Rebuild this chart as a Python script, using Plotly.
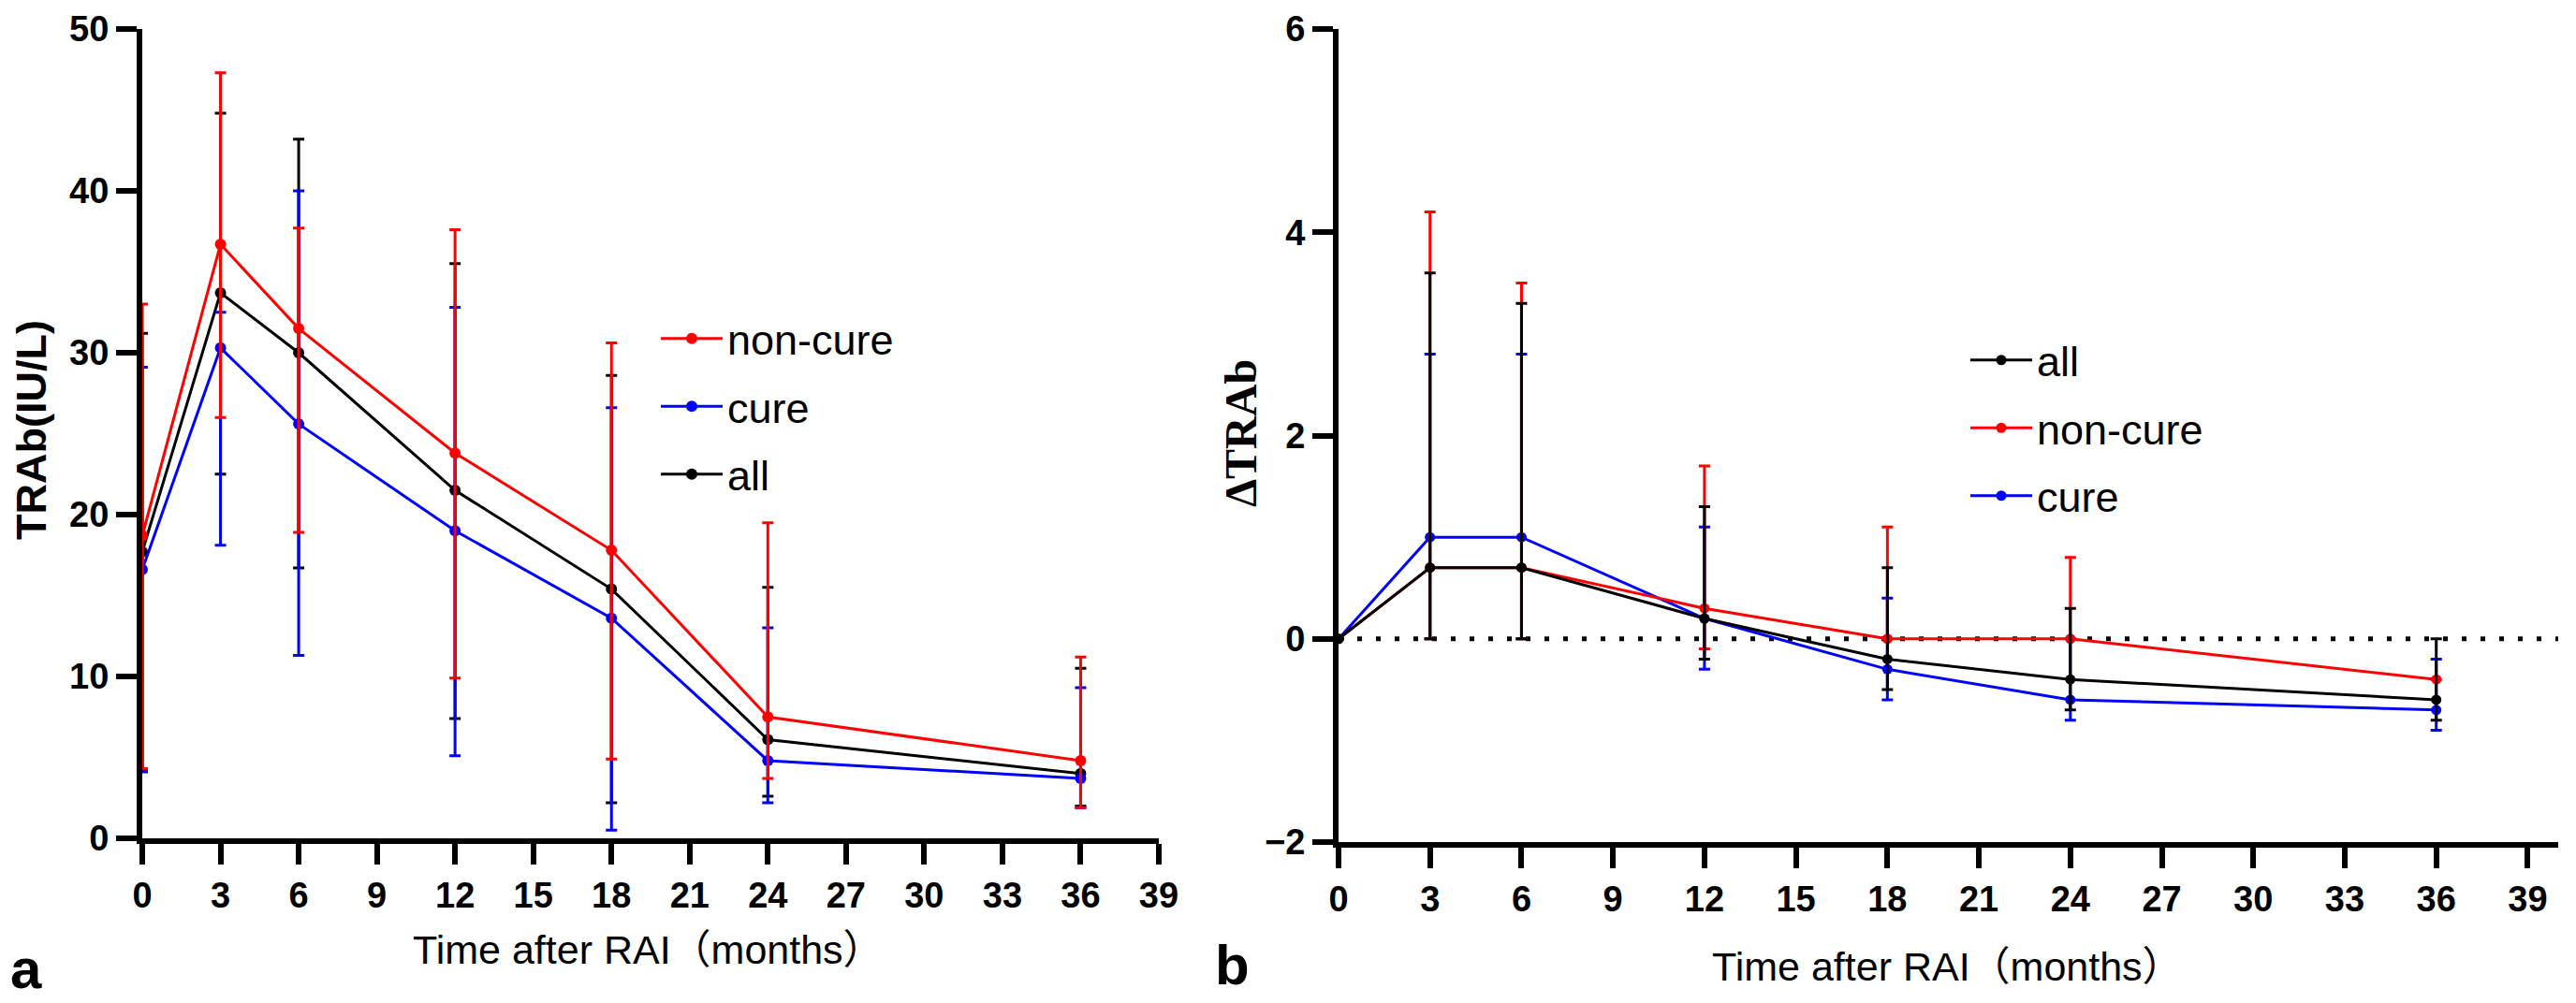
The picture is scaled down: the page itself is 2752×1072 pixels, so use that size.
import numpy as np
import plotly.graph_objects as go
from plotly.subplots import make_subplots

# target picture size; the page body adds an 8px margin, so the figure is
# made 8px smaller and every pixel position is shifted by that amount
W, H = 2752, 1072
OFF = 8
FW, FH = W - OFF, H - OFF


def fx(px):
    return (px - OFF) / FW


def fy(py):
    return (FH - (py - OFF)) / FH


# months after RAI
months = [0, 3, 6, 12, 18, 24, 36]

# panel a: TRAb (IU/L), point + upper/lower whisker ends
noncure_trab = [18.7, 36.7, 31.5, 23.8, 17.8, 7.5, 4.8]
noncure_trab_hi = [33.0, 47.3, 37.7, 37.6, 30.6, 19.5, 11.2]
noncure_trab_lo = [4.3, 26.0, 18.9, 9.9, 4.9, 3.7, 1.9]

cure_trab = [16.6, 30.3, 25.6, 19.0, 13.6, 4.8, 3.7]
cure_trab_hi = [29.1, 32.5, 40.0, 32.8, 26.6, 13.0, 9.3]
cure_trab_lo = [4.1, 18.1, 11.3, 5.1, 0.5, 2.2, 1.9]

all_trab = [17.7, 33.7, 30.0, 21.5, 15.4, 6.1, 4.0]
all_trab_hi = [31.2, 44.8, 43.2, 35.5, 28.6, 15.5, 10.5]
all_trab_lo = [4.2, 22.5, 16.7, 7.4, 2.2, 2.6, 2.0]

# panel b: delta TRAb
all_d = [0, 0.7, 0.7, 0.2, -0.2, -0.4, -0.6]
all_d_hi = [0, 3.6, 3.3, 1.3, 0.7, 0.3, 0.0]
all_d_lo = [0, 0, 0, -0.2, -0.5, -0.7, -0.8]

noncure_d = [0, 0.7, 0.7, 0.3, 0.0, 0.0, -0.4]
noncure_d_hi = [0, 4.2, 3.5, 1.7, 1.1, 0.8, -0.4]
noncure_d_lo = [0, 0, 0, -0.1, 0.0, 0.0, -0.4]

cure_d = [0, 1.0, 1.0, 0.2, -0.3, -0.6, -0.7]
cure_d_hi = [0, 2.8, 2.8, 1.1, 0.4, 0.0, -0.2]
cure_d_lo = [0, 0, 0, -0.3, -0.6, -0.8, -0.9]

RED = '#ff0000'
BLUE = '#0000ff'
BLACK = '#000000'

SANS = 'Liberation Sans, Arial, Noto Sans CJK SC'


def add_series(fig, col, y, hi, lo, name, color, legend, rank, msize):
    y = np.array(y, dtype=float)
    fig.add_trace(go.Scatter(
        x=months, y=y, name=name, mode='lines+markers',
        line=dict(color=color, width=3),
        marker=dict(color=color, size=msize),
        error_y=dict(type='data', symmetric=False,
                     array=np.array(hi) - y, arrayminus=y - np.array(lo),
                     color=color, thickness=3, width=6),
        cliponaxis=False, legend=legend, legendrank=rank, legendgroup=name + legend,
    ), row=1, col=col)


def add_text(fig, text, px, py, font, angle=0):
    # place text by its centre, in picture pixels
    fig.add_annotation(text=text, xref='paper', yref='paper', x=fx(px), y=fy(py),
                       xanchor='center', yanchor='middle', showarrow=False,
                       textangle=angle, font=font)


fig = make_subplots(rows=1, cols=2)

# panel a (red drawn last so it sits on top)
add_series(fig, 1, all_trab, all_trab_hi, all_trab_lo, 'all', BLACK, 'legend', 3, 12)
add_series(fig, 1, cure_trab, cure_trab_hi, cure_trab_lo, 'cure', BLUE, 'legend', 2, 12)
add_series(fig, 1, noncure_trab, noncure_trab_hi, noncure_trab_lo, 'non-cure', RED, 'legend', 1, 12)

# panel b (black on top)
add_series(fig, 2, cure_d, cure_d_hi, cure_d_lo, 'cure', BLUE, 'legend2', 3, 11)
add_series(fig, 2, noncure_d, noncure_d_hi, noncure_d_lo, 'non-cure', RED, 'legend2', 2, 11)
add_series(fig, 2, all_d, all_d_hi, all_d_lo, 'all', BLACK, 'legend2', 1, 11)

# dotted zero line in panel b
fig.add_shape(type='line', xref='x2', yref='y2', x0=0, x1=40, y0=0, y1=0,
              line=dict(color='black', width=5, dash='5px,15px'), layer='below')

axis_common = dict(showline=True, linecolor='black', linewidth=6, ticks='outside',
                   ticklen=22, tickwidth=6, tickcolor='black', showgrid=False, zeroline=False,
                   automargin=False, ticklabeloverflow='allow',
                   tickfont=dict(family=SANS, size=38, color='black', weight='bold'))

fig.update_xaxes(**axis_common, tick0=0, dtick=3)
fig.update_yaxes(**axis_common)

legend_style = dict(xanchor='left', yanchor='top',
                    font=dict(family=SANS, size=45, color='black'),
                    bgcolor='rgba(0,0,0,0)', tracegroupgap=11, itemwidth=66)

fig.update_layout(
    xaxis=dict(domain=[fx(152), fx(1238)], range=[0, 39]),
    yaxis=dict(domain=[fy(896), fy(31)], range=[0, 50], dtick=10),
    xaxis2=dict(domain=[fx(1430), fx(2733)], range=[0, 40]),
    yaxis2=dict(domain=[fy(900), fy(31)], range=[-2, 6], dtick=2),
    width=FW, height=FH,
    margin=dict(l=0, r=0, t=0, b=0, autoexpand=False),
    plot_bgcolor='white', paper_bgcolor='white',
    legend=dict(x=fx(701), y=fy(326), **legend_style),
    legend2=dict(x=fx(2100), y=fy(349), **legend_style),
)

title_text = 'Time after RAI（months）'
add_text(fig, title_text, 692, 1015, dict(family=SANS, size=43, color='black'))
add_text(fig, title_text, 2080, 1033, dict(family=SANS, size=43, color='black'))
add_text(fig, 'TRAb(IU/L)', 33, 460, dict(family=SANS, size=45, color='black', weight='bold'), -90)
add_text(fig, 'ΔTRAb', 1325, 463,
         dict(family='Liberation Serif, Times New Roman', size=48, color='black', weight='bold'), -90)
add_text(fig, 'a', 28, 1035, dict(family=SANS, size=60, color='black', weight='bold'))
add_text(fig, 'b', 1316, 1031, dict(family=SANS, size=60, color='black', weight='bold'))

fig.write_html("out.html")
